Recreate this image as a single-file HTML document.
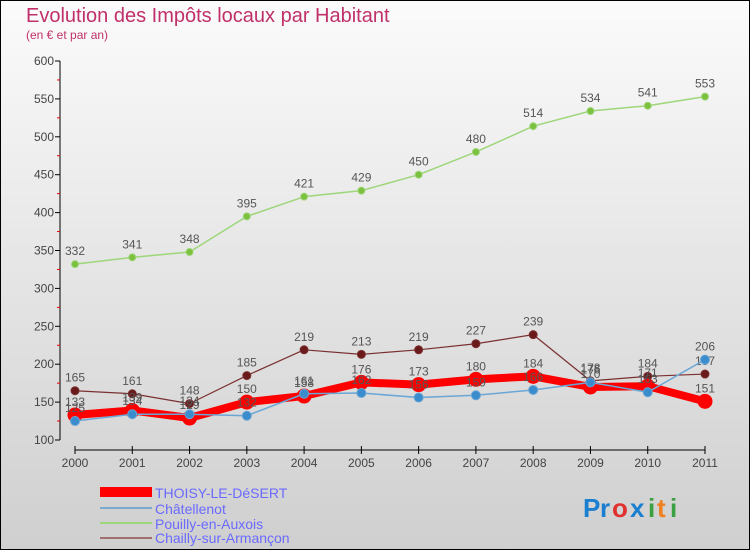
<!DOCTYPE html>
<html><head><meta charset="utf-8"><style>
body{margin:0;width:750px;height:550px;overflow:hidden;font-family:"Liberation Sans",sans-serif}
svg text{font-family:"Liberation Sans",sans-serif}
</style></head><body>
<svg width="750" height="550" id="c">
<defs><linearGradient id="bg" x1="0" y1="0" x2="0" y2="1"><stop offset="0" stop-color="#fbfbfb"/><stop offset="1" stop-color="#cfcfcf"/></linearGradient></defs>
<rect x="0.5" y="0.5" width="749" height="549" fill="url(#bg)" stroke="#000"/>
<text x="26" y="22" font-size="20" fill="#c0306a">Evolution des Impôts locaux par Habitant</text>
<text x="26" y="39" font-size="12" fill="#c0306a">(en € et par an)</text>
<g id="axes"></g><g id="series"></g>
<g>
<rect x="100" y="487" width="52" height="10" fill="#f00"/>
<text x="155" y="498" font-size="14" fill="#6a6aff">THOISY-LE-DéSERT</text>
<rect x="100" y="507" width="52" height="2" fill="#7aaad0"/>
<text x="155" y="514" font-size="14" fill="#6a6aff">Châtellenot</text>
<rect x="100" y="522" width="52" height="2" fill="#9ed67a"/>
<text x="155" y="529" font-size="14" fill="#6a6aff">Pouilly-en-Auxois</text>
<rect x="100" y="537" width="52" height="2" fill="#a07070"/>
<text x="155" y="543" font-size="14" fill="#6a6aff">Chailly-sur-Armançon</text>
</g>
<g font-size="26" font-weight="bold">
<text x="583" y="517" fill="#1a7fd0">P</text><text x="600" y="517" fill="#1a7fd0">r</text><text x="612" y="517" fill="#e03030">o</text><text x="630" y="517" fill="#1a7fd0">x</text><text x="648" y="517" fill="#3aa040">i</text><text x="657" y="517" fill="#f08020">t</text><text x="670" y="517" fill="#3aa040">i</text>
</g>
</svg>
<script>
const years=["2000","2001","2002","2003","2004","2005","2006","2007","2008","2009","2010","2011"];
const yTicks=[100,150,200,250,300,350,400,450,500,550,600];
const thoisy=[133,139,129,150,158,176,173,180,184,170,171,151];
const chatellenot=[125,134,134,132,161,162,156,159,166,176,163,206];
const pouilly=[332,341,348,395,421,429,450,480,514,534,541,553];
const chailly=[165,161,148,185,219,213,219,227,239,178,184,187];
const NS="http://www.w3.org/2000/svg";
const X=i=>75+i*(630/11), Y=v=>440-(v-100)*0.758;
function mk(t,a,p){const e=document.createElementNS(NS,t);for(const k in a)e.setAttribute(k,a[k]);p.appendChild(e);return e;}
const ax=document.getElementById('axes');
const yl=mk('line',{x1:60,y1:61,x2:60,y2:440,stroke:'#000'},ax);


for(let v=125;v<600;v+=50){mk('line',{x1:57,y1:Y(v),x2:60,y2:Y(v),stroke:'#e00'},ax);}
yTicks.forEach(v=>{mk('line',{x1:55,y1:Y(v),x2:60,y2:Y(v),stroke:'#000'},ax);
const t=mk('text',{x:54,y:Y(v)+4,'font-size':12,fill:'#444','text-anchor':'end'},ax);t.textContent=v;

});
const xl=mk('line',{x1:75,y1:450,x2:705,y2:450,stroke:'#000'},ax);


years.forEach((y,i)=>{mk('line',{x1:X(i),y1:446,x2:X(i),y2:454,stroke:'#000'},ax);
const t=mk('text',{x:X(i),y:467,'font-size':12,fill:'#444','text-anchor':'middle'},ax);t.textContent=y;

});
const sg=document.getElementById('series');
function series(name,vals,col,dot,w,r){
const g=mk('g',{},sg);


mk('polyline',{points:vals.map((v,i)=>X(i)+','+Y(v)).join(' '),fill:'none',stroke:col,'stroke-width':w,'stroke-linejoin':'round'},g);
vals.forEach((v,i)=>{const c=mk('circle',{cx:X(i),cy:Y(v),r:r,fill:dot,stroke:col,'stroke-width':1},g);


const t=mk('text',{x:X(i),y:Y(v)-9,'font-size':12,fill:'#555','text-anchor':'middle'},g);t.textContent=v;

});
}
series('pouilly',pouilly,'#9ed67a','#7cc040',1.5,3.5);
series('chailly',chailly,'#7a3030','#6a1a1a',1.2,4);
series('thoisy',thoisy,'#f00','#f00',8,7);
series('chatellenot',chatellenot,'#6aa6d6','#3a8ccc',1.5,4.5);
</script>
</body></html>
